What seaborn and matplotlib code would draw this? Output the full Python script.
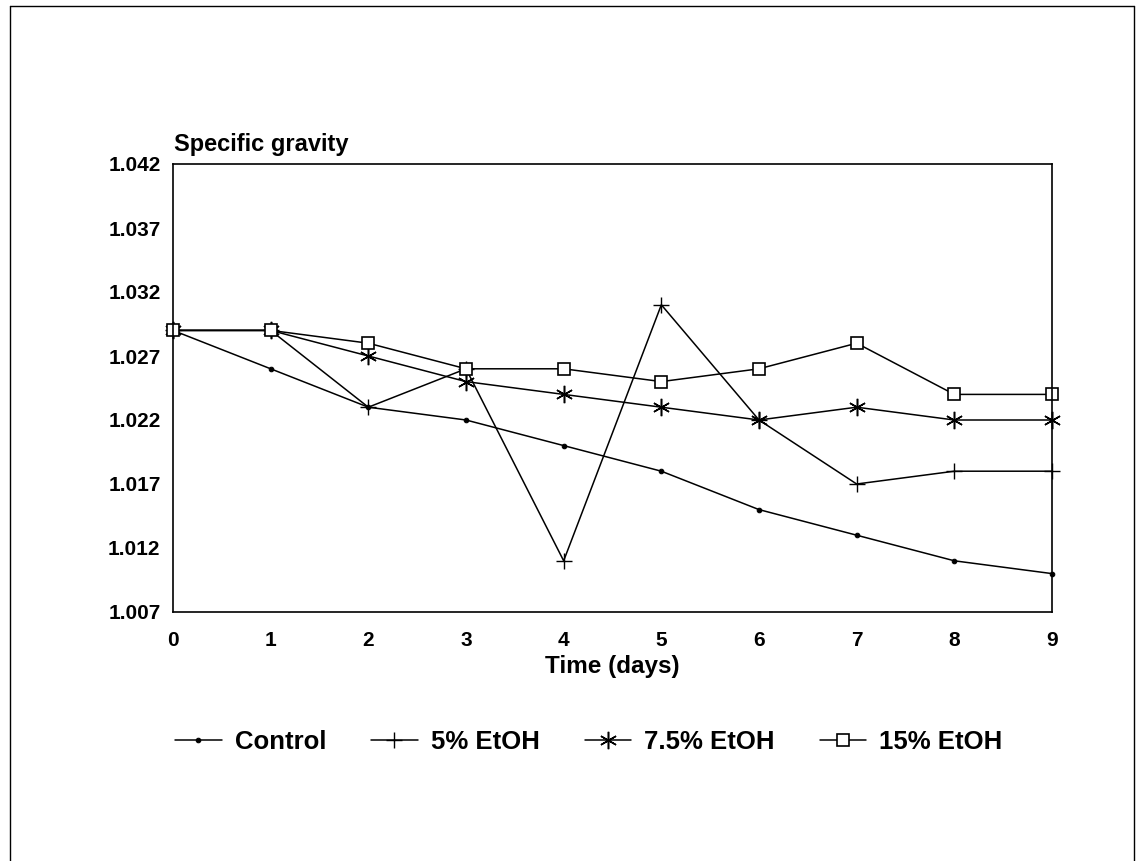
import matplotlib
matplotlib.use("Agg")
import matplotlib.pyplot as plt
from matplotlib.lines import Line2D
import pandas as pd
import seaborn as sns

# Specific gravity over the fermentation period
days = [0, 1, 2, 3, 4, 5, 6, 7, 8, 9]
control = [1.029, 1.026, 1.023, 1.022, 1.020, 1.018, 1.015, 1.013, 1.011, 1.010]
etoh_5 = [1.029, 1.029, 1.023, 1.026, 1.011, 1.031, 1.022, 1.017, 1.018, 1.018]
etoh_7_5 = [1.029, 1.029, 1.027, 1.025, 1.024, 1.023, 1.022, 1.023, 1.022, 1.022]
etoh_15 = [1.029, 1.029, 1.028, 1.026, 1.026, 1.025, 1.026, 1.028, 1.024, 1.024]

series_names = ["Control", "5% EtOH", "7.5% EtOH", "15% EtOH"]
series_values = [control, etoh_5, etoh_7_5, etoh_15]

y_ticks = [1.007, 1.012, 1.017, 1.022, 1.027, 1.032, 1.037, 1.042]
y_tick_labels = ["1.007", "1.012", "1.017", "1.022", "1.027", "1.032", "1.037", "1.042"]

sns.set_theme(style="white")
plt.rcParams["font.family"] = ["Liberation Sans", "DejaVu Sans"]
plt.rcParams["font.weight"] = "bold"
plt.rcParams["text.color"] = "black"

fig = plt.figure(figsize=(11.44, 8.61), dpi=100)
ax = fig.add_axes([173 / 1144, 1 - 612 / 861, (1052 - 173) / 1144, (612 - 164) / 861])

marker_styles = {
    "Control": dict(marker="o", markersize=3.3, markerfacecolor="black", markeredgecolor="black"),
    "5% EtOH": dict(marker="+", markersize=12, markeredgewidth=1.0, markeredgecolor="black"),
    "7.5% EtOH": dict(marker=(6, 2, 0), markersize=12.5, markeredgewidth=1.1, markeredgecolor="black"),
    "15% EtOH": dict(marker="s", markersize=9, markerfacecolor="white", markeredgewidth=1.2,
                     markeredgecolor="black"),
}

frames = []
for name, vals in zip(series_names, series_values):
    frames.append(pd.DataFrame({"day": days, "sg": vals, "series": name}))
df = pd.concat(frames, ignore_index=True)

for name in series_names:
    sub = df[df["series"] == name]
    sns.lineplot(data=sub, x="day", y="sg", ax=ax, color="black", linewidth=1.1,
                 label=name, clip_on=False, **marker_styles[name])

ax.set_xlim(0, 9)
ax.set_ylim(1.007, 1.042)
ax.set_xticks(days)
ax.set_xticklabels([str(d) for d in days])
ax.set_yticks(y_ticks)
ax.set_yticklabels(y_tick_labels)
ax.tick_params(axis="both", direction="in", length=9, width=1.0, colors="black",
               labelsize=15, pad=9)
ax.tick_params(axis="x", pad=14)
for lbl in ax.get_xticklabels() + ax.get_yticklabels():
    lbl.set_fontweight("bold")
    lbl.set_color("black")
for side in ax.spines.values():
    side.set_color("black")
    side.set_linewidth(1.2)
ax.set_xlabel("")
ax.set_ylabel("")

fig.text(174 / 1144, 1 - 151 / 861, "Specific gravity", fontsize=17, fontweight="bold",
         ha="left", va="baseline", color="black")
fig.text(612 / 1144, 1 - 667 / 861, "Time (days)", fontsize=17.5, fontweight="bold",
         ha="center", va="center", color="black")

handles, labels = ax.get_legend_handles_labels()
if ax.legend_ is not None:
    ax.legend_.remove()
leg = fig.legend(handles, labels, loc="center left", bbox_to_anchor=(175 / 1144, 1 - 742 / 861),
                 ncol=4, frameon=False, handlelength=1.82, handletextpad=0.5,
                 columnspacing=1.75, borderpad=0, borderaxespad=0,
                 prop={"weight": "bold", "size": 18.5})
for t in leg.get_texts():
    t.set_color("black")

# page frame
border_kw = dict(color="black", linewidth=1.0, transform=fig.transFigure)
fig.add_artist(Line2D([10 / 1144, 10 / 1144], [0, 1 - 6 / 861], **border_kw))
fig.add_artist(Line2D([10 / 1144, 1134 / 1144], [1 - 6 / 861, 1 - 6 / 861], **border_kw))
fig.add_artist(Line2D([1134 / 1144, 1134 / 1144], [0, 1 - 6 / 861], **border_kw))

fig.savefig("out.png", dpi=100, facecolor="white")
